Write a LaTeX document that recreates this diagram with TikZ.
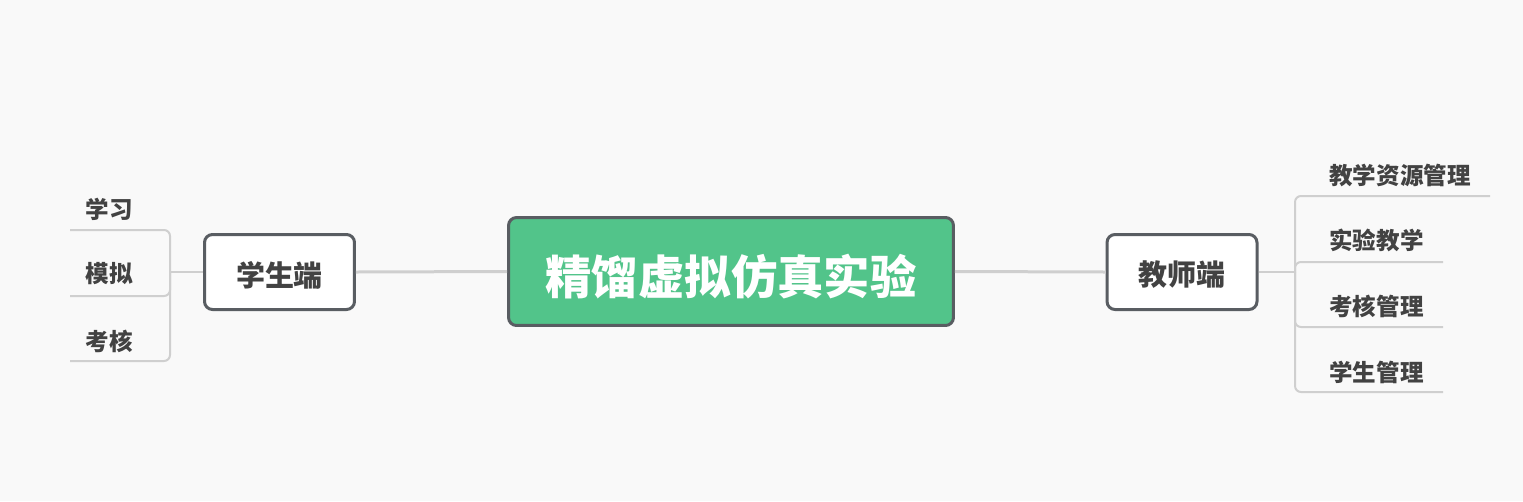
\documentclass[tikz,border=0pt]{standalone}
\usepackage{fontspec}
\newfontfamily\cjk{Noto Sans CJK SC}
\definecolor{bgc}{HTML}{F9F9F9}
\definecolor{greenc}{HTML}{52C48A}
\definecolor{borderc}{HTML}{595D62}
\definecolor{txtc}{HTML}{424242}
\definecolor{linec}{HTML}{CFCFCF}
\tikzset{
  rootbox/.style={draw=borderc, line width=0.06cm, fill=greenc, rounded corners=0.16cm,
    minimum width=8.9cm, minimum height=2.16cm, inner sep=0pt},
  roottext/.style={inner sep=0pt, text=white,
    font=\cjk\bfseries\fontsize{26.4pt}{26.4pt}\selectfont},
  mainbox/.style={draw=borderc, line width=0.06cm, fill=white, rounded corners=0.16cm,
    minimum width=3.0cm, minimum height=1.5cm, inner sep=0pt},
  maintext/.style={inner sep=0pt, text=txtc,
    font=\cjk\bfseries\fontsize{16.5pt}{16.5pt}\selectfont},
  leaf/.style={inner sep=0pt, text=txtc, font=\cjk\bfseries\fontsize{13.4pt}{13.4pt}\selectfont},
  trunk/.style={draw=linec, line width=0.06cm},
  twig/.style={draw=linec, line width=0.04cm, rounded corners=0.12cm},
}
\begin{document}
\begin{tikzpicture}[x=0.02cm,y=-0.02cm]
\useasboundingbox[fill=bgc] (0,0) rectangle (1523,501);
% main nodes
\node[rootbox] (root) at (731,271.5) {};
\node[roottext] (rootlbl) at ([yshift=-0.1cm]root.center) {精馏虚拟仿真实验};
\node[mainbox] (stu) at (279.5,272) {};
\node[maintext] (stulbl) at ([yshift=-0.06cm]stu.center) {学生端};
\node[mainbox] (tea) at (1182,272) {};
\node[maintext] (tealbl) at ([yshift=-0.06cm]tea.center) {教师端};
\draw[trunk] (stu.east) -- (root.west);
\draw[trunk] (root.east) -- (tea.west);
% left children
\coordinate (lj) at (170,272);
\node[leaf] (l1) at (109.5,209) {学习};
\node[leaf] (l2) at (109.5,274) {模拟};
\node[leaf] (l3) at (109.5,341) {考核};
\coordinate (l1u) at (70,230);
\coordinate (l2u) at (70,296);
\coordinate (l3u) at (70,361);
\draw[twig, rounded corners=0pt] (stu.west) -- (lj);
\draw[twig] (lj) |- (l1u);
\draw[twig] (lj) |- (l2u);
\draw[twig] (lj) |- (l3u);
% right children
\coordinate (rj) at (1295,272);
\node[leaf, anchor=west] (r1) at (1329,175) {教学资源管理};
\node[leaf, anchor=west] (r2) at (1329,240) {实验教学};
\node[leaf, anchor=west] (r3) at (1329,306) {考核管理};
\node[leaf, anchor=west] (r4) at (1329,372) {学生管理};
\coordinate (r1u) at (1490,196);
\coordinate (r2u) at (1443,262);
\coordinate (r3u) at (1443,327);
\coordinate (r4u) at (1443,392);
\draw[twig, rounded corners=0pt] (tea.east) -- (rj);
\draw[twig] (rj) |- (r1u);
\draw[twig] (rj) |- (r2u);
\draw[twig] (rj) |- (r3u);
\draw[twig] (rj) |- (r4u);
\end{tikzpicture}
\end{document}
